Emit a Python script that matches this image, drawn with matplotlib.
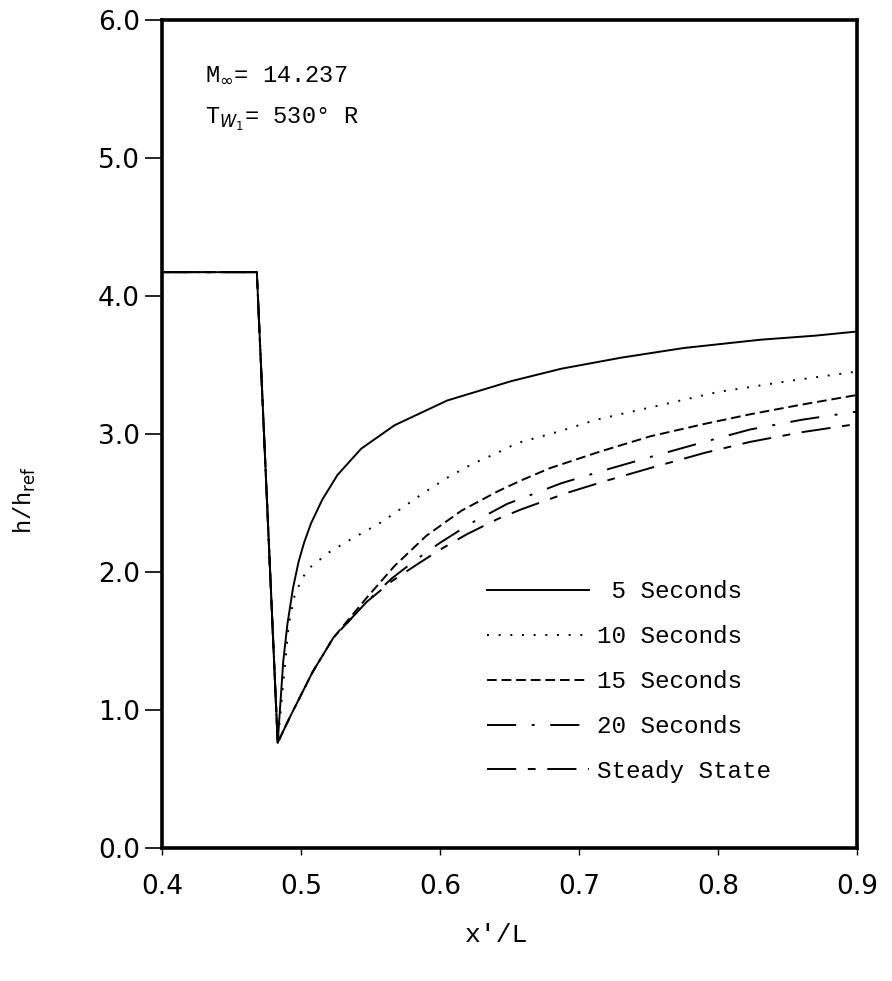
import matplotlib
matplotlib.use("Agg")
import matplotlib.pyplot as plt

# ---- data ----
x_5s = [0.40, 0.468, 0.483, 0.487, 0.490, 0.494, 0.498, 0.502, 0.507, 0.515, 0.526, 0.543, 0.567, 0.605, 0.651, 0.687, 0.730, 0.775, 0.830, 0.870, 0.90]
y_5s = [4.17, 4.17, 0.76, 1.35, 1.62, 1.88, 2.07, 2.21, 2.35, 2.52, 2.70, 2.89, 3.06, 3.24, 3.38, 3.47, 3.55, 3.62, 3.68, 3.71, 3.74]

x_10s = [0.40, 0.468, 0.483, 0.491, 0.495, 0.500, 0.505, 0.520, 0.535, 0.558, 0.588, 0.605, 0.623, 0.641, 0.655, 0.687, 0.712, 0.760, 0.799, 0.850, 0.90]
y_10s = [4.17, 4.17, 0.76, 1.62, 1.82, 1.94, 2.02, 2.14, 2.23, 2.36, 2.57, 2.68, 2.78, 2.86, 2.93, 3.02, 3.10, 3.21, 3.30, 3.38, 3.45]

x_15s = [0.40, 0.468, 0.483, 0.492, 0.508, 0.523, 0.547, 0.567, 0.590, 0.615, 0.641, 0.658, 0.679, 0.715, 0.751, 0.790, 0.823, 0.860, 0.90]
y_15s = [4.17, 4.17, 0.76, 0.95, 1.27, 1.52, 1.81, 2.04, 2.26, 2.44, 2.58, 2.66, 2.75, 2.87, 2.98, 3.07, 3.14, 3.21, 3.28]

x_20s = [0.40, 0.468, 0.483, 0.492, 0.508, 0.523, 0.547, 0.565, 0.583, 0.600, 0.622, 0.648, 0.687, 0.720, 0.751, 0.790, 0.823, 0.860, 0.90]
y_20s = [4.17, 4.17, 0.76, 0.95, 1.27, 1.52, 1.78, 1.95, 2.09, 2.21, 2.35, 2.49, 2.64, 2.74, 2.83, 2.94, 3.03, 3.10, 3.16]

x_ss = [0.40, 0.468, 0.483, 0.492, 0.508, 0.523, 0.547, 0.565, 0.583, 0.600, 0.619, 0.641, 0.658, 0.691, 0.720, 0.751, 0.790, 0.823, 0.860, 0.90]
y_ss = [4.17, 4.17, 0.76, 0.95, 1.27, 1.52, 1.78, 1.93, 2.05, 2.16, 2.27, 2.38, 2.45, 2.57, 2.66, 2.75, 2.86, 2.94, 3.01, 3.07]

labels = [" 5 Seconds", "10 Seconds", "15 Seconds", "20 Seconds", "Steady State"]
x_ticks = [0.4, 0.5, 0.6, 0.7, 0.8, 0.9]
y_ticks = [0.0, 1.0, 2.0, 3.0, 4.0, 5.0, 6.0]

# ---- figure ----
fig = plt.figure(figsize=(8.92, 9.81), dpi=100)
ax = fig.add_axes([0.182, 0.136, 0.779, 0.844])

mono = "Liberation Mono"
lw = 1.4
ax.plot(x_5s, y_5s, color="black", lw=lw, linestyle="-", label=labels[0])
ax.plot(x_10s, y_10s, color="black", lw=lw, linestyle=(0, (1, 5)), label=labels[1])
ax.plot(x_15s, y_15s, color="black", lw=lw, linestyle=(0, (5, 2.5)), label=labels[2])
ax.plot(x_20s, y_20s, color="black", lw=lw, linestyle=(0, (15, 8, 1.5, 8)), label=labels[3])
ax.plot(x_ss, y_ss, color="black", lw=lw, linestyle=(0, (15, 6, 4, 6)), label=labels[4])

ax.set_xlim(0.4, 0.9)
ax.set_ylim(0.0, 6.0)
ax.set_xticks(x_ticks)
ax.set_yticks(y_ticks)
ax.set_xticklabels([f"{v:.1f}" for v in x_ticks], fontsize=19, fontfamily="DejaVu Sans")
ax.set_yticklabels([f"{v:.1f}" for v in y_ticks], fontsize=19, fontfamily="DejaVu Sans")
ax.tick_params(axis="y", direction="out", length=12, width=1.2, pad=4)
ax.tick_params(axis="x", direction="out", length=5, width=1.0, pad=14)

for s in ax.spines.values():
    s.set_linewidth(2.6)

leg = ax.legend(loc="upper left", bbox_to_anchor=(0.436, 0.349), frameon=False,
                prop={"family": mono, "size": 17.5}, handlelength=4.2,
                handletextpad=0.3, labelspacing=0.9)

ax.text(0.062, 0.934, r"M$_{\infty}$= 14.237", transform=ax.transAxes,
        fontsize=17, fontfamily=mono, va="center", ha="left")
ax.text(0.062, 0.879, r"T$_{W_1}$= 530° R", transform=ax.transAxes,
        fontsize=17, fontfamily=mono, va="center", ha="left")

fig.text(0.028, 0.49, r"h/h$_{\mathrm{ref}}$", rotation=90, fontsize=17,
         fontfamily=mono, va="center", ha="center")
fig.text(0.557, 0.047, "x'/L", fontsize=19, fontfamily=mono, va="center", ha="center")

fig.savefig("out.png", dpi=100)
